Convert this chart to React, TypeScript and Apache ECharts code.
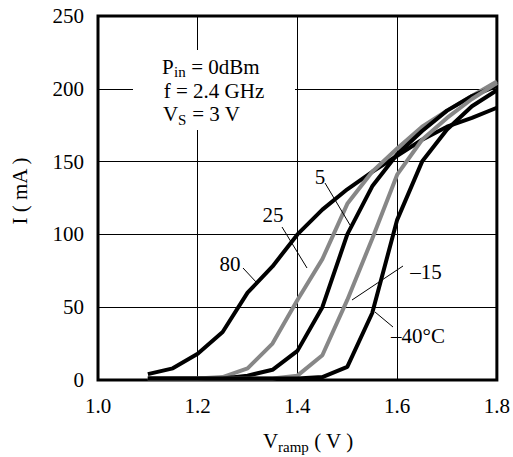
import React, { useEffect, useRef } from "react";
import * as echarts from "echarts";

const vramp = [1.1, 1.15, 1.2, 1.25, 1.3, 1.35, 1.4, 1.45, 1.5, 1.55, 1.6, 1.65, 1.7, 1.75, 1.8];
const i80 = [4, 8, 18, 33, 60, 78, 100, 117, 131, 143, 154, 165, 174, 180, 187];
const i25 = [1, 1, 1, 2, 8, 25, 55, 83, 121, 143, 159, 174, 185, 195, 205];
const i5 = [1, 1, 1, 1, 3, 7, 20, 50, 100, 133, 155, 171, 185, 195, 202];
const im15 = [1, 1, 1, 1, 1, 1, 3, 17, 55, 97, 141, 165, 180, 193, 204];
const im40 = [1, 1, 1, 1, 1, 1, 1, 2, 9, 46, 110, 150, 172, 188, 199];

const seriesDefs = [
  { name: "80", values: i80, color: "#000000" },
  { name: "25", values: i25, color: "#878787" },
  { name: "5", values: i5, color: "#000000" },
  { name: "-15", values: im15, color: "#878787" },
  { name: "-40", values: im40, color: "#000000" },
];

const FONT = "'Liberation Serif', 'Times New Roman', serif";

export default function App() {
  const ref = useRef<HTMLDivElement>(null);
  useEffect(() => {
    if (!ref.current) return;
    const chart = echarts.init(ref.current, undefined, { renderer: "svg" });
    const txt = (x: number, y: number, text: string, extra: any = {}) => ({
      type: "text",
      x,
      y,
      z: 10,
      style: {
        text,
        fontSize: 21,
        lineHeight: 20,
        fontFamily: FONT,
        fill: "#000",
        textAlign: "center",
        textVerticalAlign: "middle",
        ...extra,
      },
    });
    const left = (x: number, y: number, text: string, size = 21) =>
      txt(x, y, text, { textAlign: "left", fontSize: size, lineHeight: size === 21 ? 20 : 14 });
    const ln = (x1: number, y1: number, x2: number, y2: number) => ({
      type: "line",
      z: 10,
      shape: { x1, y1, x2, y2 },
      style: { stroke: "#000", lineWidth: 1 },
    });
    chart.setOption({
      animation: false,
      backgroundColor: "#fff",
      grid: {
        left: 98,
        right: 12,
        top: 16,
        bottom: 77,
        show: true,
        borderColor: "#000",
        borderWidth: 3,
        backgroundColor: "transparent",
      },
      xAxis: {
        type: "value",
        min: 1.0,
        max: 1.8,
        interval: 0.2,
        axisLine: { show: false },
        axisTick: { show: false },
        axisLabel: {
          margin: 15,
          fontSize: 21,
          fontFamily: FONT,
          color: "#000",
          formatter: (v: number) => v.toFixed(1),
        },
        splitLine: { show: true, lineStyle: { color: "#000", width: 1 } },
      },
      yAxis: {
        type: "value",
        min: 0,
        max: 250,
        interval: 50,
        axisLine: { show: false },
        axisTick: { show: false },
        axisLabel: { margin: 14, fontSize: 21, fontFamily: FONT, color: "#000" },
        splitLine: { show: true, lineStyle: { color: "#000", width: 1 } },
      },
      series: seriesDefs.map((s) => ({
        type: "line",
        name: s.name,
        data: vramp.map((v, i) => [v, s.values[i]]),
        showSymbol: false,
        symbol: "none",
        lineStyle: { color: s.color, width: 4 },
        z: 3,
      })),
      graphic: [
        { type: "rect", z: 5, shape: { x: 133, y: 50, width: 162, height: 80 }, style: { fill: "#fff" } },
        left(162, 67, "P"),
        left(174, 71.5, "in", 15),
        left(186, 67, " = 0dBm"),
        txt(214, 91, "f = 2.4 GHz"),
        left(163, 113.5, "V"),
        left(178, 119.5, "S", 15),
        left(187, 113.5, " = 3 V"),
        left(263, 441, "V"),
        left(278, 447, "ramp", 15),
        left(309, 441, " ( V )"),
        { ...txt(20, 191, "I ( mA )"), rotation: Math.PI / 2 },
        txt(230, 264, "80"),
        ln(243, 268, 257, 283),
        txt(273, 215, "25"),
        ln(282, 227, 307, 268),
        txt(320, 177, "5"),
        ln(325, 183, 350, 225),
        txt(426, 272, "\u201315"),
        ln(403, 266, 352, 300),
        txt(418, 336, "\u201340\u00b0C"),
        ln(375, 312, 393, 327),
      ],
    });
    return () => chart.dispose();
  }, []);
  return (
    <div
      ref={ref}
      style={{ position: "fixed", left: 0, top: 0, width: 513, height: 457, background: "#fff" }}
    />
  );
}
